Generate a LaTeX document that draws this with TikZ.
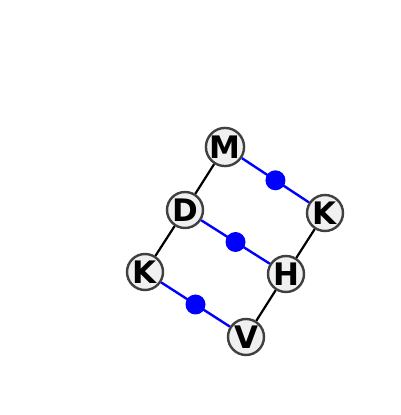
\documentclass[tikz,border=0pt]{standalone}
\usepackage{fontspec}
\setmainfont{DejaVu Sans}
\usepackage{tikz}
\definecolor{atomfill}{HTML}{F0F0F0}
\definecolor{atomedge}{HTML}{404040}

\begin{document}
\begin{tikzpicture}[
    x=1pt, y=1pt,
    atom/.style={circle, draw=atomedge, line width=2.4pt, fill=atomfill, minimum size=36pt, inner sep=0pt, font=\fontsize{31}{31}\selectfont\bfseries},
    bond/.style={black, line width=2.2pt},
    hbond/.style={blue, line width=2.4pt},
    hdot/.style={circle, fill=blue, minimum size=20pt, inner sep=0pt}
]
    \useasboundingbox (0,0) rectangle (400,415);

    % Atoms
    \node[atom] (m)  at (225,268) {M};
    \node[atom] (k1) at (325,202) {K};
    \node[atom] (d)  at (185,205) {D};
    \node[atom] (h)  at (286,141) {H};
    \node[atom] (k2) at (145,143) {K};
    \node[atom] (v)  at (246,78)  {V};

    % Bonds
    \draw[bond] (m) -- (d);
    \draw[bond] (d) -- (k2);
    \draw[bond] (k1) -- (h);
    \draw[bond] (h) -- (v);
    \draw[hbond] (m) -- (k1) node[hdot, midway] (p1) {};
    \draw[hbond] (d) -- (h) node[hdot, midway] (p2) {};
    \draw[hbond] (k2) -- (v) node[hdot, midway] (p3) {};
\end{tikzpicture}
\end{document}
